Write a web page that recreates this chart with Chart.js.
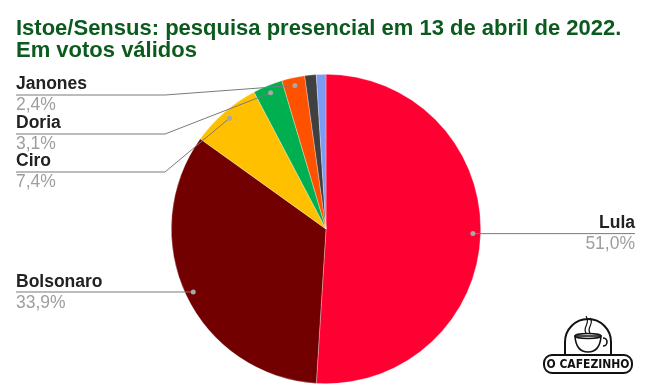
<!DOCTYPE html>
<html>
<head>
<meta charset="utf-8">
<script src="https://cdn.jsdelivr.net/npm/chart.js@4"></script>
<style>
  html, body { margin: 0; padding: 0; background: #fff; }
  #wrap { width: 647px; height: 392px; position: relative; }
</style>
</head>
<body>
<div id="wrap"><canvas id="myChart" width="647" height="392"></canvas></div>
<script>
// data
const candidates = ["Lula", "Bolsonaro", "Ciro", "Doria", "Janones", "Outros", "Brancos"];
const shares = [51.0, 33.9, 7.4, 3.1, 2.4, 1.2, 1.0];
const shareLabels = ["51,0%", "33,9%", "7,4%", "3,1%", "2,4%", "", ""];
const sliceColors = ["#ff0033", "#730000", "#ffc000", "#00b050", "#ff5200", "#404040", "#7b9cf2"];

const titleLines = ["Istoe/Sensus: pesquisa presencial em 13 de abril de 2022.", "Em votos válidos"];

// where the callout text sits (baseline of the name, side)
const callouts = {
    0: { side: "right", y: 228 },
    1: { side: "left", y: 287 },
    2: { side: "left", y: 166 },
    3: { side: "left", y: 128 },
    4: { side: "left", y: 89 }
};

const font = "'Liberation Sans', Arial, sans-serif";

const labelPlugin = {
    id: "labels",
    afterDraw(chart) {
        const ctx = chart.ctx;
        ctx.save();

        // title
        ctx.fillStyle = "#0b5a1e";
        ctx.font = "bold 22px " + font;
        ctx.textAlign = "left";
        ctx.textBaseline = "alphabetic";
        ctx.fillText(titleLines[0], 16, 35);
        ctx.fillText(titleLines[1], 16, 57);

        const meta = chart.getDatasetMeta(0);
        meta.data.forEach((arc, i) => {
            const c = callouts[i];
            if (!c) return;
            const p = arc.getProps(["x", "y", "startAngle", "endAngle", "outerRadius"], true);
            const mid = (p.startAngle + p.endAngle) / 2;
            const r = p.outerRadius * 0.95;
            const dx = p.x + Math.cos(mid) * r;
            const dy = p.y + Math.sin(mid) * r;
            const lineY = c.y + 6;

            ctx.strokeStyle = "#7a7a7a";
            ctx.lineWidth = 1;
            ctx.beginPath();
            if (c.side === "right") {
                ctx.moveTo(dx, dy);
                ctx.lineTo(635, dy);
            } else if (Math.abs(dy - lineY) < 4) {
                ctx.moveTo(16, dy);
                ctx.lineTo(dx, dy);
            } else {
                ctx.moveTo(16, lineY);
                ctx.lineTo(165, lineY);
                ctx.lineTo(dx, dy);
            }
            ctx.stroke();

            ctx.fillStyle = "#a8a8a8";
            ctx.beginPath();
            ctx.arc(dx, dy, 2.5, 0, Math.PI * 2);
            ctx.fill();

            ctx.textAlign = c.side === "right" ? "right" : "left";
            const tx = c.side === "right" ? 635 : 16;
            ctx.font = "bold 17.5px " + font;
            ctx.fillStyle = "#222";
            ctx.fillText(candidates[i], tx, c.y);
            ctx.font = "17.5px " + font;
            ctx.fillStyle = "#9e9e9e";
            ctx.fillText(shareLabels[i], tx, c.y + 21);
        });

        // logo
        ctx.strokeStyle = "#111";
        ctx.fillStyle = "#111";
        ctx.lineWidth = 2;
        // arch behind the cup
        ctx.beginPath();
        ctx.moveTo(565, 356);
        ctx.lineTo(565, 342);
        ctx.arc(588, 342, 23, Math.PI, 0);
        ctx.lineTo(611, 356);
        ctx.stroke();
        // cup
        ctx.lineWidth = 1.6;
        ctx.beginPath();
        ctx.moveTo(575, 336);
        ctx.quadraticCurveTo(576, 352, 588, 352);
        ctx.quadraticCurveTo(600, 352, 601, 336);
        ctx.closePath();
        ctx.stroke();
        ctx.beginPath();
        ctx.ellipse(588, 336, 13, 2.5, 0, 0, Math.PI * 2);
        ctx.stroke();
        ctx.beginPath();
        ctx.arc(603, 342, 4, -Math.PI / 2, Math.PI / 2);
        ctx.stroke();
        // steam
        ctx.lineWidth = 1.2;
        ctx.beginPath();
        ctx.moveTo(586, 333);
        ctx.bezierCurveTo(582, 327, 591, 324, 586, 316);
        ctx.moveTo(590, 333);
        ctx.bezierCurveTo(586, 327, 595, 324, 590, 318);
        ctx.stroke();
        // pill
        ctx.lineWidth = 2;
        ctx.beginPath();
        ctx.roundRect(544, 355, 88, 18, 8);
        ctx.fillStyle = "#fff";
        ctx.fill();
        ctx.stroke();
        ctx.fillStyle = "#111";
        ctx.font = "bold 12px 'DejaVu Sans Condensed', sans-serif";
        ctx.textAlign = "center";
        ctx.textBaseline = "middle";
        ctx.fillText("O CAFEZINHO", 588, 364.5);

        ctx.restore();
    }
};

new Chart(document.getElementById("myChart"), {
    type: "pie",
    data: {
        labels: candidates,
        datasets: [{
            data: shares,
            backgroundColor: sliceColors,
            borderColor: "rgba(255,255,255,0.5)",
            borderWidth: 0.6
        }]
    },
    options: {
        responsive: false,
        animation: false,
        layout: { padding: { top: 74, bottom: 8, left: 5, right: 0 } },
        plugins: {
            legend: { display: false },
            tooltip: { enabled: false },
            title: { display: false }
        }
    },
    plugins: [labelPlugin]
});
</script>
</body>
</html>
